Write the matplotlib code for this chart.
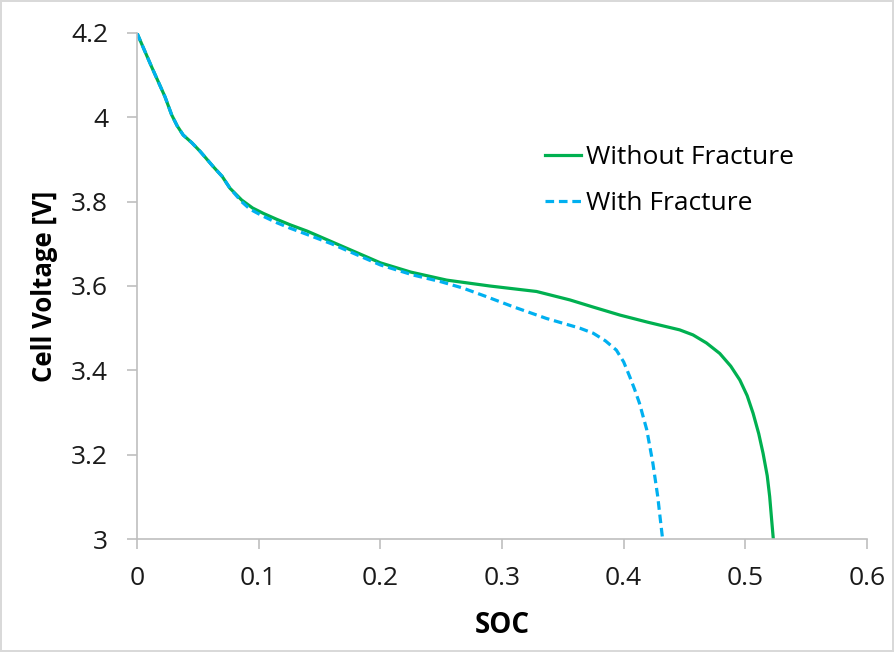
import matplotlib
matplotlib.use("Agg")
import matplotlib.pyplot as plt

# Without fracture (solid green)
soc_nf = [0.0, 0.012, 0.023, 0.0285, 0.033, 0.038, 0.045, 0.052, 0.0627, 0.07, 0.0764, 0.086,
          0.095, 0.104, 0.115, 0.126, 0.14, 0.16, 0.18, 0.2, 0.225, 0.2545, 0.29, 0.3284,
          0.3558, 0.375, 0.397, 0.42, 0.446, 0.457, 0.468, 0.479, 0.488, 0.4955, 0.5015,
          0.5064, 0.511, 0.5146, 0.518, 0.520, 0.5215, 0.523]
v_nf = [4.2, 4.12, 4.049, 4.006, 3.98, 3.958, 3.94, 3.919, 3.883, 3.86, 3.832, 3.804,
        3.785, 3.772, 3.758, 3.745, 3.73, 3.705, 3.68, 3.655, 3.633, 3.614, 3.600, 3.587,
        3.567, 3.550, 3.531, 3.514, 3.496, 3.484, 3.465, 3.440, 3.41, 3.377, 3.34,
        3.298, 3.25, 3.203, 3.15, 3.101, 3.05, 3.0]

# With fracture (dashed blue)
soc_f = [0.0, 0.012, 0.023, 0.0285, 0.033, 0.038, 0.045, 0.052, 0.0627, 0.07, 0.0764, 0.086,
         0.093, 0.104, 0.115, 0.126, 0.14, 0.16, 0.18, 0.2, 0.227, 0.25, 0.268, 0.287,
         0.309, 0.3366, 0.364, 0.375, 0.385, 0.394, 0.400, 0.405, 0.409, 0.413, 0.419,
         0.424, 0.428, 0.430, 0.432]
v_f = [4.2, 4.12, 4.049, 4.006, 3.98, 3.958, 3.94, 3.919, 3.883, 3.86, 3.832, 3.800,
       3.782, 3.765, 3.750, 3.737, 3.722, 3.70, 3.675, 3.65, 3.626, 3.61, 3.595, 3.575,
       3.551, 3.523, 3.50, 3.488, 3.47, 3.448, 3.42, 3.385, 3.355, 3.322, 3.259,
       3.180, 3.101, 3.05, 3.0]

xticks = [0, 0.1, 0.2, 0.3, 0.4, 0.5, 0.6]
xtick_labels = ["0", "0.1", "0.2", "0.3", "0.4", "0.5", "0.6"]
yticks = [3.0, 3.2, 3.4, 3.6, 3.8, 4.0, 4.2]
ytick_labels = ["3", "3.2", "3.4", "3.6", "3.8", "4", "4.2"]

plt.rcParams['font.family'] = ['Open Sans', 'DejaVu Sans']

fig = plt.figure(figsize=(8.94, 6.52), dpi=100)
fig.patch.set_edgecolor('#d9d9d9')
fig.patch.set_linewidth(1.5)
ax = fig.add_axes([0.1532, 0.1733, 0.8166, 0.7761])

green = '#00B050'
blue = '#00B0F0'
ax.plot(soc_nf, v_nf, color=green, lw=2.3, label='Without Fracture',
        solid_joinstyle='round')
ax.plot(soc_f, v_f, color=blue, lw=2.3, ls=(0, (2.7, 1.5)), label='With Fracture')

ax.set_xlim(0, 0.6)
ax.set_ylim(3.0, 4.2)
ax.set_xticks(xticks)
ax.set_xticklabels(xtick_labels)
ax.set_yticks(yticks)
ax.set_yticklabels(ytick_labels)

for s in ['top', 'right']:
    ax.spines[s].set_visible(False)
for s in ['left', 'bottom']:
    ax.spines[s].set_color('#bfbfbf')
    ax.spines[s].set_linewidth(1.2)
ax.tick_params(axis='both', direction='out', length=7.2, width=1.2, color='#bfbfbf',
               labelsize=19, labelcolor='#1a1a1a')
ax.tick_params(axis='y', pad=13.5)
ax.tick_params(axis='x', pad=12)

ax.set_xlabel('SOC', fontsize=20, fontweight='bold')
ax.set_ylabel('Cell Voltage [V]', fontsize=18.5, fontweight='bold')
ax.xaxis.set_label_coords(0.5, -0.142)
ax.yaxis.set_label_coords(-0.108, 0.5)

leg = ax.legend(loc='upper left', bbox_to_anchor=(0.545, 0.80), frameon=False,
                fontsize=19, handlelength=1.35, handletextpad=0.2, labelspacing=0.8,
                borderaxespad=0)

fig.savefig('out.png', dpi=100)
